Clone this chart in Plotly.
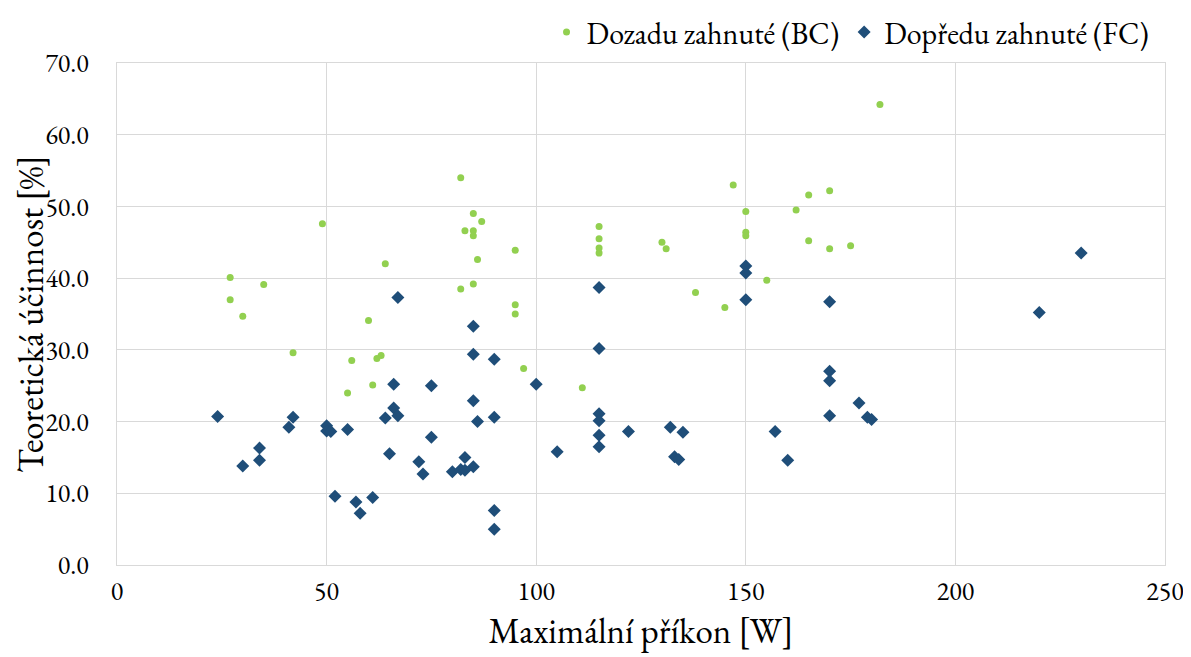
import plotly.graph_objects as go

# Dozadu zahnuté (BC)
bc_power = [27, 27, 30, 35, 42, 49, 55, 56, 60, 61, 62, 63, 64, 82, 82, 83, 85, 85, 85, 86,
            85, 87, 95, 95, 95, 97, 111, 115, 115, 115, 115, 130, 131, 138, 145, 147, 150, 150,
            150, 155, 162, 165, 165, 170, 170, 175, 182]
bc_eff = [40.1, 37.0, 34.7, 39.1, 29.6, 47.6, 24.0, 28.5, 34.1, 25.1, 28.8, 29.2, 42.0, 54.0,
          38.5, 46.6, 49.0, 46.6, 45.9, 42.6, 39.2, 47.9, 43.9, 36.3, 35.0, 27.4, 24.7, 47.2,
          45.5, 44.2, 43.5, 45.0, 44.1, 38.0, 35.9, 53.0, 49.3, 46.4, 45.9, 39.7, 49.5, 51.6,
          45.2, 52.2, 44.1, 44.5, 64.2]

# Dopředu zahnuté (FC)
fc_power = [24, 30, 34, 34, 41, 42, 50, 50, 51, 52, 55, 57, 58, 61, 64, 65, 66, 66, 67, 67,
            72, 73, 75, 75, 80, 82, 83, 83, 85, 85, 85, 85, 86, 90, 90, 90, 90, 100, 105, 115,
            115, 115, 115, 115, 115, 122, 132, 133, 134, 135, 150, 150, 150, 157, 160, 170,
            170, 170, 170, 177, 179, 180, 220, 230]
fc_eff = [20.7, 13.8, 16.3, 14.6, 19.2, 20.6, 19.4, 18.7, 18.6, 9.6, 18.9, 8.8, 7.2, 9.4,
          20.5, 15.5, 25.2, 21.9, 20.8, 37.3, 14.4, 12.7, 25.0, 17.8, 13.0, 13.3, 13.2, 15.0,
          33.3, 29.4, 22.9, 13.7, 20.0, 28.7, 20.6, 7.6, 5.0, 25.2, 15.8, 38.7, 30.2, 21.1,
          20.1, 18.1, 16.5, 18.6, 19.2, 15.1, 14.7, 18.5, 41.7, 40.7, 37.0, 18.6, 14.6, 36.7,
          27.0, 25.7, 20.8, 22.6, 20.6, 20.3, 35.2, 43.5]

FONT = "Garamond, 'EB Garamond', 'Liberation Serif', serif"
GRID = "#d9d9d9"

fig = go.Figure()

fig.add_trace(go.Scatter(
    x=bc_power, y=bc_eff,
    mode="markers",
    name="Dozadu zahnuté (BC)",
    marker=dict(symbol="circle", size=7, color="#92D050"),
))

fig.add_trace(go.Scatter(
    x=fc_power, y=fc_eff,
    mode="markers",
    name="Dopředu zahnuté (FC)",
    marker=dict(symbol="diamond", size=10, color="#1F4E79"),
))

# the page body adds ~8px offset, margins are compensated for it
fig.update_layout(
    width=1191,
    height=657,
    margin=dict(l=109, r=34, t=55, b=100, autoexpand=False),
    paper_bgcolor="white",
    plot_bgcolor="white",
    font=dict(family=FONT, color="#000000", size=26),
    showlegend=True,
    legend=dict(
        orientation="h",
        x=0.99, xanchor="right",
        y=1.062, yanchor="middle",
        font=dict(size=30),
        itemwidth=30,
    ),
    xaxis=dict(
        title=dict(text="Maximální příkon [W]", font=dict(size=35), standoff=4),
        range=[0, 250],
        dtick=50,
        showgrid=True, gridcolor=GRID,
        showline=True, linecolor=GRID, mirror=True,
        zeroline=False, automargin=False,
        ticks="", ticklabelstandoff=3,
        tickfont=dict(size=26),
    ),
    yaxis=dict(
        title=dict(text="Teoretická účinnost [%]", font=dict(size=35), standoff=4),
        range=[0, 70],
        dtick=10,
        tickformat=".1f",
        showgrid=True, gridcolor=GRID,
        showline=True, linecolor=GRID, mirror=True,
        zeroline=False, automargin=False,
        ticks="", ticklabelstandoff=22,
        tickfont=dict(size=26),
    ),
)

fig.write_html("out.html")
